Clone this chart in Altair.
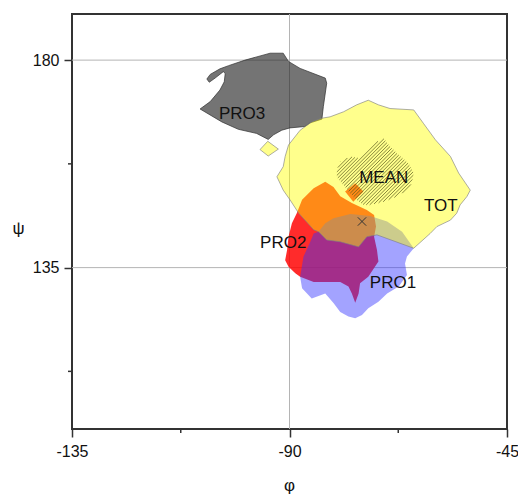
import altair as alt
import pandas as pd

FONT = "Liberation Sans"

# Region outlines in (phi, psi) degrees
pro3_phi = [-108.5, -106.4, -104.4, -103.5, -103.3, -103.7, -105.4, -106.6, -107.1, -106.4,
            -104.4, -102.6, -99.2, -94.0, -91.3, -90.2, -87.8, -82.6, -82.3, -83.0,
            -83.3, -85.7, -86.8, -89.9, -91.6, -93.3, -94.4, -96.8, -100.6, -104.0]
pro3_psi = [169.4, 171.0, 173.5, 175.3, 177.1, 177.5, 176.1, 175.2, 175.9, 176.9,
            178.1, 178.8, 180.0, 181.5, 181.5, 179.7, 178.2, 176.1, 175.0, 169.9,
            167.2, 166.4, 165.6, 165.3, 164.8, 163.8, 162.8, 164.1, 165.0, 166.6]

tot_phi = [-92.6, -91.3, -90.9, -90.2, -87.8, -85.4, -83.3, -81.6, -78.8, -76.1,
           -73.7, -71.6, -69.2, -64.3, -62.3, -59.8, -56.7, -55.0, -52.6, -53.3,
           -54.7, -55.4, -56.7, -59.5, -60.9, -64.3, -71.9, -74.0, -75.7, -79.5,
           -82.3, -84.0, -85.0, -88.1, -89.9, -91.3]
tot_psi = [154.7, 156.9, 159.1, 161.6, 164.8, 166.6, 167.4, 167.7, 168.8, 170.3,
           171.3, 170.3, 169.5, 169.2, 166.3, 162.7, 159.1, 155.5, 151.8, 150.4,
           148.6, 146.8, 145.3, 143.9, 142.4, 139.2, 142.1, 141.7, 139.5, 140.6,
           141.0, 142.8, 143.2, 146.8, 149.7, 151.8]
tot_islet_phi = [-96.1, -94.5, -92.3, -94.4]
tot_islet_psi = [160.6, 162.4, 160.7, 159.2]

pro2_phi = [-82.6, -85.0, -87.4, -88.5, -89.5, -90.2, -90.5, -90.9, -90.2, -88.8,
            -87.8, -85.0, -79.5, -77.8, -77.1, -76.4, -75.7, -75.4, -73.7, -71.6,
            -71.9, -72.5, -72.1, -72.5, -74.0, -77.1, -79.5, -80.9]
pro2_psi = [153.6, 152.2, 149.7, 146.8, 144.6, 141.7, 138.8, 136.6, 135.2, 133.8,
            133.0, 131.9, 131.9, 130.9, 129.4, 127.4, 129.4, 131.6, 133.0, 136.3,
            138.8, 141.7, 143.9, 146.4, 147.5, 149.0, 150.5, 152.5]
pro2_islet_phi = [-78.5, -76.4, -74.7, -76.8]
pro2_islet_psi = [151.5, 153.3, 151.5, 149.3]

pro1_phi = [-84.0, -82.6, -80.9, -77.4, -73.3, -69.8, -66.7, -64.3, -65.7, -66.1,
            -65.7, -67.4, -69.8, -71.6, -73.7, -75.0, -76.4, -77.8, -79.5, -80.9,
            -82.6, -85.4, -87.4, -87.8, -87.1, -85.7, -85.0]
pro1_psi = [142.8, 144.6, 145.7, 146.6, 146.2, 145.0, 142.8, 139.2, 137.4, 135.9,
            133.4, 130.9, 129.4, 127.6, 126.2, 124.7, 124.0, 124.4, 125.4, 127.3,
            129.4, 128.3, 130.5, 133.0, 137.4, 140.6, 142.4]

mean_phi = [-80.2, -79.5, -77.4, -75.4, -74.0, -71.9, -70.5, -69.5, -67.8, -65.4,
            -64.3, -64.7, -65.7, -67.8, -70.5, -73.3, -74.7, -76.1, -77.4, -78.8, -80.2]
mean_psi = [156.2, 158.0, 159.1, 158.7, 160.5, 162.3, 163.0, 161.6, 159.8, 157.6,
            155.5, 153.3, 151.8, 150.4, 149.3, 148.6, 148.6, 149.7, 151.1, 152.9, 154.7]

# Mean conformation
mean_point_phi = [-75.0]
mean_point_psi = [145.0]

# Region labels
label_text = ["PRO3", "MEAN", "TOT", "PRO2", "PRO1"]
label_phi = [-99.8, -70.5, -58.7, -91.3, -68.6]
label_psi = [168.4, 154.4, 148.3, 140.3, 131.7]

# Axes
x_ticks = [-135, -90, -45]
x_minor = [-112.5, -67.5]
y_ticks = [135, 180]
y_minor = [112.5, 157.5]
x_grid = [-90]
y_grid = [135, 180]

W, H = 435, 415

x_scale = alt.Scale(domain=[-135, -45], nice=False, zero=False)
y_scale = alt.Scale(domain=[100, 190], nice=False, zero=False)

x_axis = alt.Axis(values=x_ticks, title="φ", grid=False, domain=False,
                  tickSize=8, tickWidth=1.5, tickColor="#333",
                  labelExpr="datum.value + ''",
                  labelFont=FONT, labelFontSize=16, labelColor="#111",
                  labelPadding=6, labelFlush=False, labelOverlap=False,
                  titleFont=FONT, titleFontSize=17, titleFontWeight="normal",
                  titleColor="#111", titleX=217, titleY=56,
                  titleAlign="center", titleBaseline="middle")
y_axis = alt.Axis(values=y_ticks, title="ψ", grid=False, domain=False,
                  tickSize=8, tickWidth=1.5, tickColor="#333",
                  labelExpr="datum.value + ''",
                  labelFont=FONT, labelFontSize=16, labelColor="#111",
                  labelPadding=5, labelFlush=False, labelOverlap=False,
                  titleFont=FONT, titleFontSize=17, titleFontWeight="normal",
                  titleColor="#111", titleAngle=0, titleX=-54, titleY=214,
                  titleAlign="center", titleBaseline="middle")

X = alt.X("phi:Q", scale=x_scale, axis=x_axis)
Y = alt.Y("psi:Q", scale=y_scale, axis=y_axis)


def outline(parts):
    rows = []
    for k, (ph, ps) in enumerate(parts):
        for i, (a, b) in enumerate(zip(ph, ps)):
            rows.append({"part": k, "i": i, "phi": a, "psi": b})
    return pd.DataFrame(rows)


def region(parts, fill, opacity, stroke="#000", stroke_opacity=0.0, stroke_width=0.8):
    return alt.Chart(outline(parts)).mark_line(
        interpolate="linear-closed", fill=fill, fillOpacity=opacity,
        stroke=stroke, strokeOpacity=stroke_opacity, strokeWidth=stroke_width,
    ).encode(x=X, y=Y, order="i:Q", detail="part:N")


def hatch(ph, ps, slope=1.047, step=0.75):
    """Diagonal hatch segments clipped to a polygon (scanline on psi - slope*phi = c)."""
    n = len(ph)
    cs = [ps[j] - slope * ph[j] for j in range(n)]
    segs = []
    c = min(cs) + step / 2
    while c < max(cs):
        xs = []
        for j in range(n):
            a1, b1 = ph[j], ps[j]
            a2, b2 = ph[(j + 1) % n], ps[(j + 1) % n]
            f1 = b1 - slope * a1 - c
            f2 = b2 - slope * a2 - c
            if (f1 > 0) != (f2 > 0):
                t = f1 / (f1 - f2)
                xs.append(a1 + t * (a2 - a1))
        xs.sort()
        for s in range(0, len(xs) - 1, 2):
            p0, p1 = xs[s], xs[s + 1]
            segs.append({"phi": p0, "psi": slope * p0 + c,
                         "phi2": p1, "psi2": slope * p1 + c})
        c += step
    return pd.DataFrame(segs)


grid_x = alt.Chart(pd.DataFrame({"phi": x_grid})).mark_rule(
    color="#b4b4b4", strokeWidth=1).encode(x=X)
grid_y = alt.Chart(pd.DataFrame({"psi": y_grid})).mark_rule(
    color="#b4b4b4", strokeWidth=1).encode(y=Y)

minor_x = alt.Chart(pd.DataFrame({"phi": x_minor})).mark_rule(
    color="#333", strokeWidth=1.5).encode(x=X, y=alt.value(H), y2=alt.value(H + 4))
minor_y = alt.Chart(pd.DataFrame({"psi": y_minor})).mark_rule(
    color="#333", strokeWidth=1.5).encode(y=Y, x=alt.value(0), x2=alt.value(-4))

pro3 = region([(pro3_phi, pro3_psi)], "#262626", 0.64, stroke="#333", stroke_opacity=0.9)
pro2 = region([(pro2_phi, pro2_psi), (pro2_islet_phi, pro2_islet_psi)], "#ff0000", 0.83)
pro1 = region([(pro1_phi, pro1_psi)], "#3232ff", 0.45)
tot = region([(tot_phi, tot_psi), (tot_islet_phi, tot_islet_psi)], "#ffff00", 0.45,
             stroke="#808080", stroke_opacity=0.8)

mean_hatch = alt.Chart(hatch(mean_phi, mean_psi)).mark_rule(
    color="#55551a", strokeWidth=1.0, opacity=0.7
).encode(x=X, y=Y, x2="phi2:Q", y2="psi2:Q")

mean_mark = alt.Chart(pd.DataFrame({"phi": mean_point_phi, "psi": mean_point_psi})).mark_point(
    shape="M-1,-1L1,1M-1,1L1,-1", size=70, filled=False, stroke="#333", strokeWidth=1, opacity=1
).encode(x=X, y=Y)

labels = alt.Chart(pd.DataFrame({"t": label_text, "phi": label_phi, "psi": label_psi})).mark_text(
    font=FONT, fontSize=17, color="#111", align="center", baseline="middle"
).encode(x=X, y=Y, text="t:N")

chart = alt.layer(
    grid_x, grid_y, pro3, pro2, pro1, tot, mean_hatch, mean_mark, labels, minor_x, minor_y
).properties(
    width=W, height=H,
    padding={"left": 72, "top": 14, "right": 11, "bottom": 65},
    autosize=alt.AutoSizeParams(type="none"),
    background="white",
).configure_view(stroke="#333", strokeWidth=2)

chart.save("out.html", embed_options={"renderer": "svg", "actions": False})
